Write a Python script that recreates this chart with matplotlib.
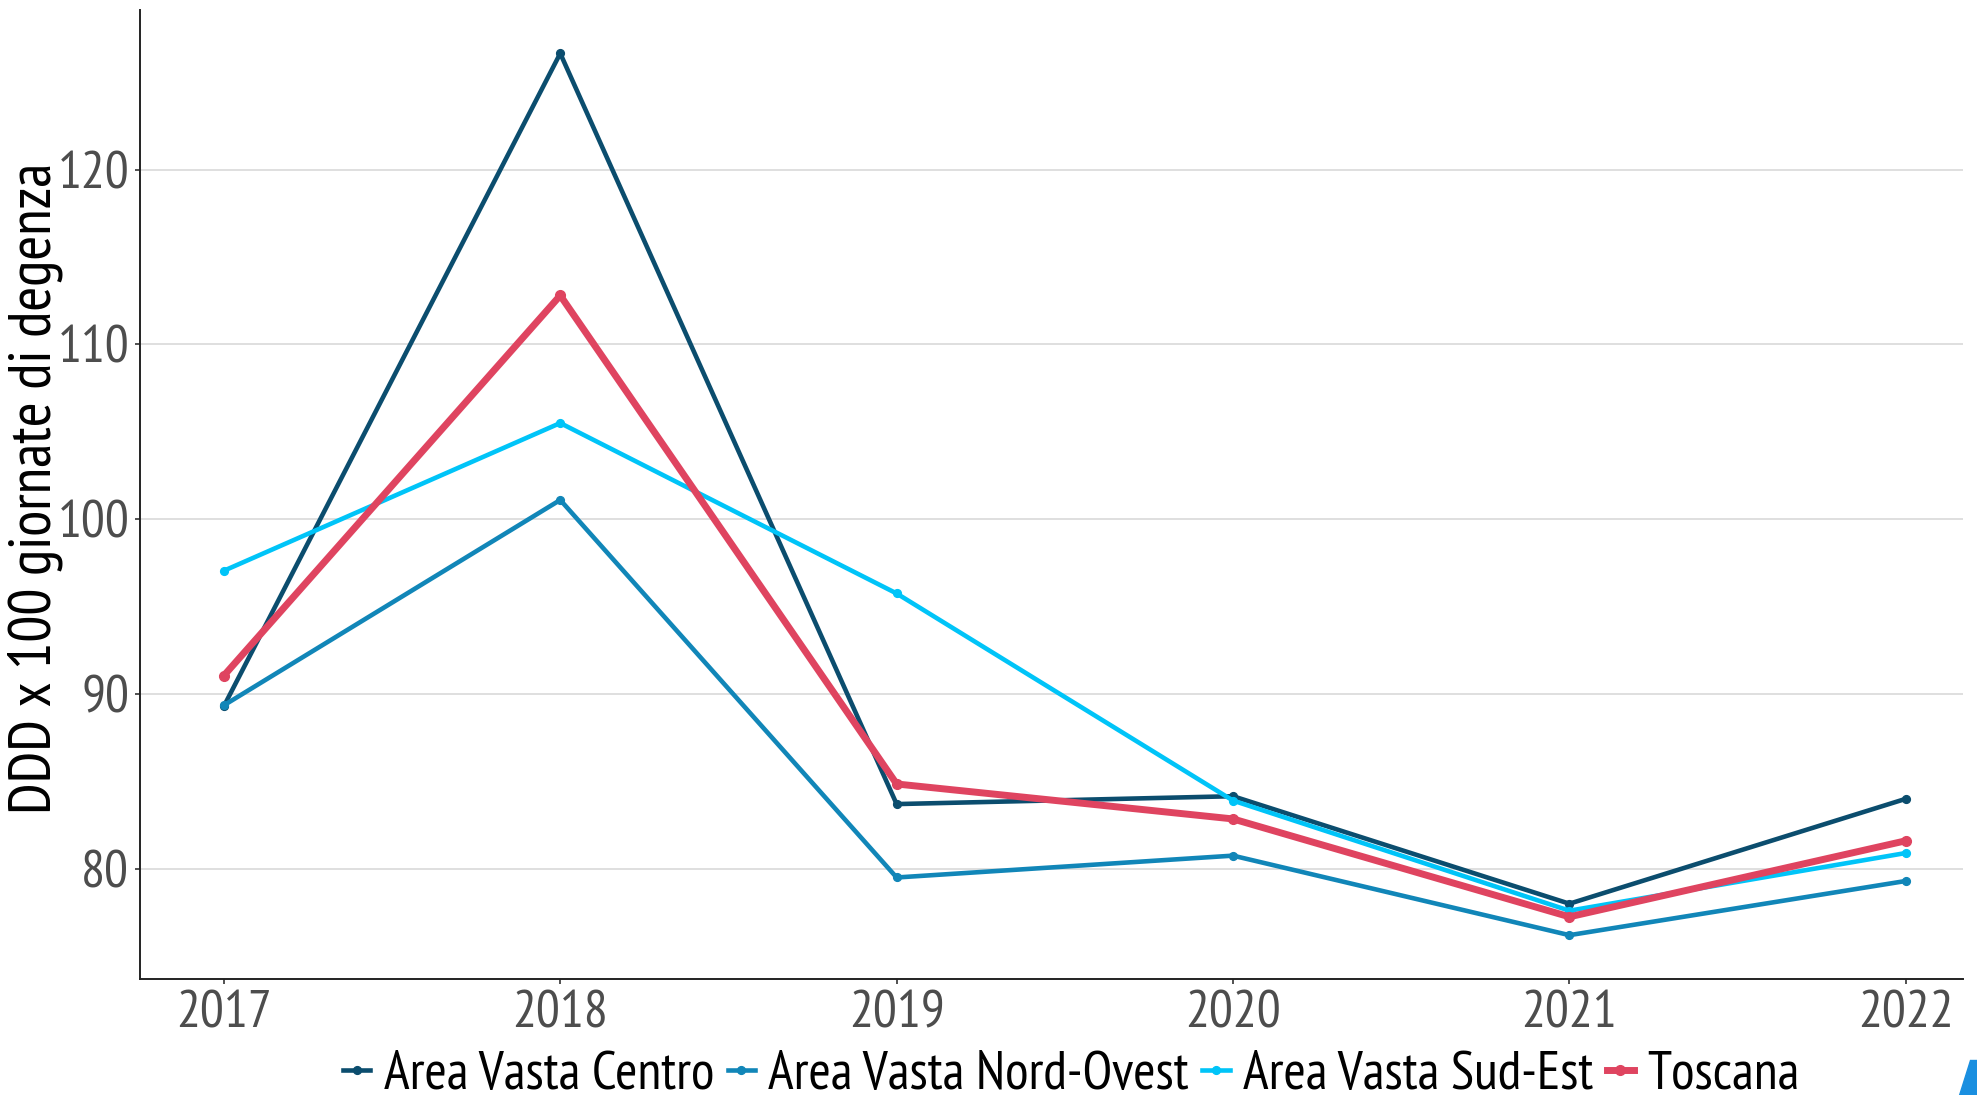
import matplotlib
matplotlib.use('Agg')
import matplotlib.pyplot as plt
from matplotlib import font_manager
from matplotlib.font_manager import FontProperties
from matplotlib.textpath import TextPath
from matplotlib.patches import Polygon

years = [2017, 2018, 2019, 2020, 2021, 2022]
centro = [89.3, 126.65, 83.7, 84.15, 78.0, 84.0]
nord_ovest = [89.35, 101.1, 79.5, 80.75, 76.2, 79.3]
sud_est = [97.05, 105.5, 95.75, 83.9, 77.6, 80.9]
toscana = [91.05, 112.8, 84.85, 82.85, 77.25, 81.6]
yticks = [80, 90, 100, 110, 120]

names = ['Area Vasta Centro', 'Area Vasta Nord-Ovest', 'Area Vasta Sud-Est', 'Toscana']
colors = ['#0b4d6e', '#1186b8', '#00c4f8', '#df4460']
ylab = 'DDD x 100 giornate di degenza'

# narrow sans like the original (Arial Narrow look)
installed = {f.name for f in font_manager.fontManager.ttflist}
fam = 'Liberation Sans'
for cand in ['Liberation Sans Narrow', 'Arial Narrow', 'PT Sans Narrow', 'Roboto Condensed',
             'Archivo Narrow', 'Liberation Sans']:
    if cand in installed:
        fam = cand
        break
plt.rcParams['font.family'] = [fam, 'DejaVu Sans']
fp = FontProperties(family=fam)


def fit(s, px):
    # font size (pt, dpi 100) that makes string s about px pixels wide
    w = TextPath((0, 0), s, size=1, prop=fp).get_extents().width
    return px * 0.72 / w


tick_fs = fit('2017', 90)
ylab_fs = fit(ylab, 645)
leg_fs = fit('Area Vasta Centro', 328)

fig = plt.figure(figsize=(19.77, 10.95), dpi=100)
ax = fig.add_axes([0.0707, 0.1059, 0.9222, 0.8851])

series = [centro, nord_ovest, sud_est, toscana]
for vals, name, c in zip(series, names, colors):
    if name == 'Toscana':
        ax.plot(years, vals, color=c, lw=5.0, marker='o', ms=7, label=name, zorder=4)
    else:
        ax.plot(years, vals, color=c, lw=3.3, marker='o', ms=5.6, label=name, zorder=3)

ax.set_xlim(2016.75, 2022.17)
ax.set_ylim(73.69, 129.14)
ax.set_xticks(years)
ax.set_yticks(yticks)
ax.yaxis.grid(True, color='#dcdcdc', lw=1.3)
ax.set_axisbelow(True)
for s in ['top', 'right']:
    ax.spines[s].set_visible(False)
for s in ['left', 'bottom']:
    ax.spines[s].set_color('#222222')
    ax.spines[s].set_linewidth(1.4)
ax.tick_params(axis='both', colors='#333333', labelcolor='#4d4d4d', labelsize=tick_fs,
               length=3.5, width=1.2)
ax.tick_params(axis='x', pad=5)
ax.tick_params(axis='y', pad=4)

fig.text(35 / 1977, 0.554, ylab, rotation=90, ha='center', va='center',
         fontsize=ylab_fs, color='black')

fig.legend(*ax.get_legend_handles_labels(), loc='center', bbox_to_anchor=(0.542, 0.018),
           ncol=4, frameon=False, fontsize=leg_fs, handlelength=0.5, handletextpad=0.25,
           columnspacing=0.25, borderaxespad=0, borderpad=0)

fig.patches.append(Polygon([[0.9965, 0.032], [1.0, 0.032], [1.0, 0.0], [0.991, 0.0]],
                           closed=True, transform=fig.transFigure, color='#1a8fe0'))

fig.savefig('out.png', dpi=100)
